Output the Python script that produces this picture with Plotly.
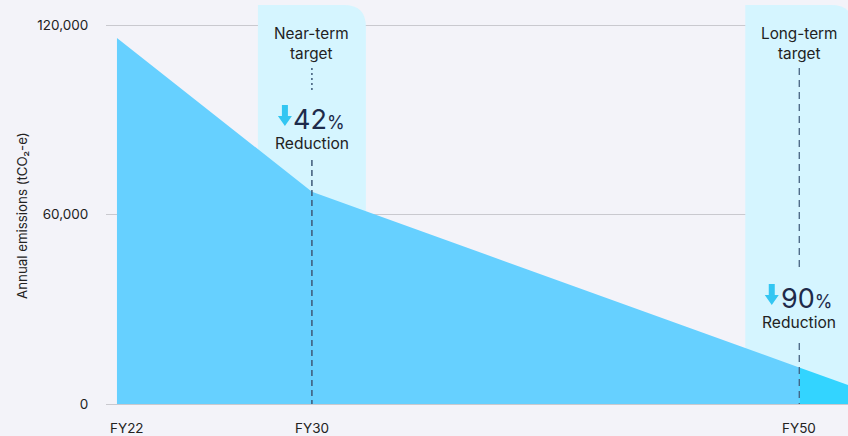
import plotly.graph_objects as go

# Emissions trajectory (fiscal year -> annual tCO2-e)
years = [22, 30, 50]
emissions = [116000, 67300, 11600]
tail_years = [50, 52]
tail_emissions = [11600, 6000]

tick_years = [22, 30, 50]
tick_labels = ["FY22", "FY30", "FY50"]
y_ticks = [0, 60000, 120000]
y_tick_labels = ["0", "60,000", "120,000"]

targets = [
    {"year": 30, "title": "Near-term<br>target", "pct": "42"},
    {"year": 50, "title": "Long-term<br>target", "pct": "90"},
]

W, H = 848, 436
ML, MR, MT, MB = 106, 0, 5, 32
X0, X1 = 21.55, 52.0
Y_MAX = 126500
plot_h = H - MT - MB
plot_w = W - ML - MR
px_per_year = plot_w / (X1 - X0)


def py2y(py):
    """Pixel row (from top of page) -> data value."""
    return (H - MB - py) / plot_h * Y_MAX


def dx(px):
    """Horizontal pixel offset -> years."""
    return px / px_per_year


BG = "#f3f3f9"
AREA = "#66d0ff"
AREA_TAIL = "#33d4ff"
BAND = "#d5f5ff"
LINE = "#3d5878"
NAVY = "#1e2a4a"
TEXT = "#222222"
ARROW = "#33c6f2"
FONT = "Inter"

fig = go.Figure()
fig.add_trace(go.Scatter(
    x=years, y=emissions, mode="lines", fill="tozeroy",
    line=dict(width=0, color=AREA), fillcolor=AREA, hoverinfo="skip",
))
fig.add_trace(go.Scatter(
    x=tail_years, y=tail_emissions, mode="lines", fill="tozeroy",
    line=dict(width=0, color=AREA_TAIL), fillcolor=AREA_TAIL, hoverinfo="skip",
))

shapes = []
annotations = []
half_w = dx(54)
rx, ry = dx(22), 22 * Y_MAX / plot_h
for t in targets:
    xc = t["year"]
    xa, xb = xc - half_w, xc + half_w
    # target band with rounded top-right corner
    path = (f"M {xa},0 L {xa},{Y_MAX} L {xb - rx},{Y_MAX} "
            f"Q {xb},{Y_MAX} {xb},{Y_MAX - ry} L {xb},0 Z")
    shapes.append(dict(type="path", path=path, xref="x", yref="y",
                       fillcolor=BAND, line=dict(width=0), layer="between"))
    annotations.append(dict(x=xc, y=py2y(43), xref="x", yref="y",
                            text=t["title"], showarrow=False,
                            font=dict(family=FONT, size=15.3, color=TEXT),
                            align="center"))

near, far = targets
# near-term guide lines
shapes.append(dict(type="line", x0=near["year"], x1=near["year"],
                   y0=py2y(68), y1=py2y(92), xref="x", yref="y",
                   line=dict(color=LINE, width=1.5, dash="2px,3px"), layer="above"))
shapes.append(dict(type="line", x0=near["year"], x1=near["year"],
                   y0=py2y(160), y1=0, xref="x", yref="y",
                   line=dict(color=LINE, width=1.5, dash="6px,4px"), layer="above"))
# long-term guide lines
shapes.append(dict(type="line", x0=far["year"], x1=far["year"],
                   y0=py2y(68), y1=py2y(268), xref="x", yref="y",
                   line=dict(color=LINE, width=1.2, dash="7px,5px"), layer="above"))
shapes.append(dict(type="line", x0=far["year"], x1=far["year"],
                   y0=py2y(343), y1=0, xref="x", yref="y",
                   line=dict(color=LINE, width=1.2, dash="7px,5px"), layer="above"))

# reduction callouts
callouts = [
    (near, 119, 143, -27.0, 126),
    (far, 298, 322, -27.5, 305),
]
arrow_path = "M 0,0 L -7,10 L -3,10 L -3,21 L 3,21 L 3,10 L 7,10 Z"
for t, y_pct, y_red, arrow_dx, arrow_tip in callouts:
    annotations.append(dict(
        x=t["year"], y=py2y(y_pct), xref="x", yref="y", xshift=7,
        text=f"{t['pct']}<span style='font-size:18px'>%</span>",
        showarrow=False, font=dict(family=FONT, size=27, color=NAVY)))
    annotations.append(dict(
        x=t["year"], y=py2y(y_red), xref="x", yref="y",
        text="Reduction", showarrow=False,
        font=dict(family=FONT, size=15.6, color=TEXT)))
    shapes.append(dict(type="path", path=arrow_path,
                       xsizemode="pixel", ysizemode="pixel",
                       xanchor=t["year"] + dx(arrow_dx), yanchor=py2y(arrow_tip),
                       xref="x", yref="y", fillcolor=ARROW,
                       line=dict(width=0), layer="above"))

# x-axis labels
for yr, lab in zip(tick_years, tick_labels):
    annotations.append(dict(
        x=yr, y=0, xref="x", yref="paper", yshift=-24, yanchor="middle",
        xshift=10 if yr == tick_years[0] else 0,
        text=lab, showarrow=False,
        font=dict(family=FONT, size=13.5, color=TEXT)))

# y-axis title (paper coords are relative to the plot area)
annotations.append(dict(
    x=(22 - ML) / plot_w, y=(H - MB - 216) / plot_h,
    xref="paper", yref="paper",
    xanchor="center", yanchor="middle", textangle=-90,
    text="Annual emissions (tCO₂-e)", showarrow=False,
    font=dict(family=FONT, size=13.3, color=TEXT)))

fig.update_layout(
    width=W, height=H,
    margin=dict(l=ML, r=MR, t=MT, b=MB, pad=0),
    paper_bgcolor=BG, plot_bgcolor=BG,
    showlegend=False,
    shapes=shapes, annotations=annotations,
    xaxis=dict(range=[X0, X1], showgrid=False, zeroline=False,
               showticklabels=False, showline=False, fixedrange=True),
    yaxis=dict(range=[0, Y_MAX], tickvals=y_ticks, ticktext=y_tick_labels,
               showgrid=True, gridcolor="#c9c9cf", gridwidth=1,
               zeroline=True, zerolinecolor="#c9c9cf", zerolinewidth=1,
               ticks="outside", ticklen=14, tickcolor="rgba(0,0,0,0)",
               tickfont=dict(family=FONT, size=13.5, color=TEXT),
               showline=False, fixedrange=True),
)

fig.write_html("out.html")
